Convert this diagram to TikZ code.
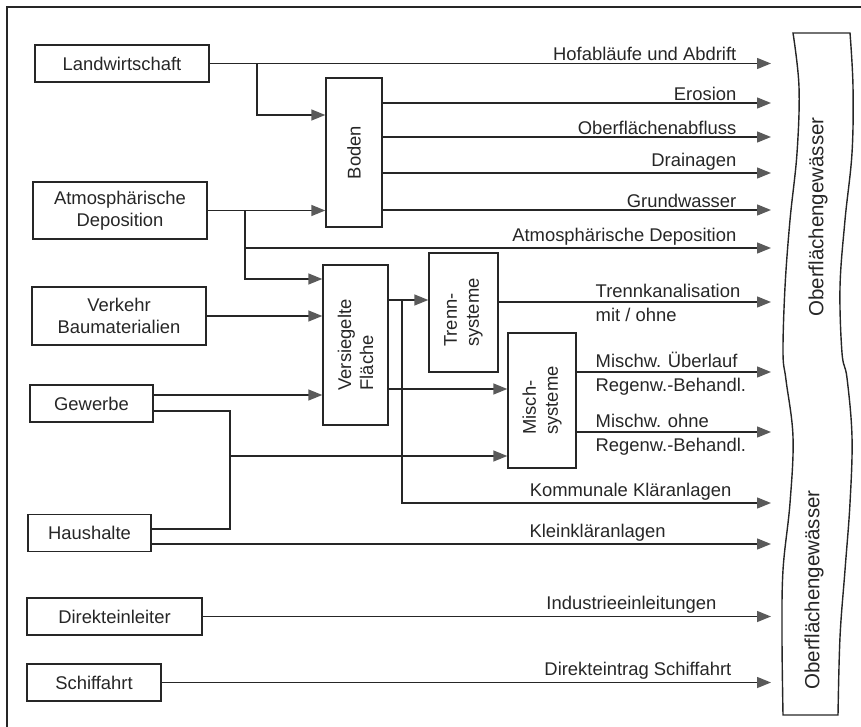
\documentclass[tikz,border=0pt]{standalone}
\usepackage{fontspec}
\setmainfont{Liberation Sans}
\usetikzlibrary{arrows.meta,positioning,calc}

\definecolor{linec}{HTML}{262626}
\definecolor{tipc}{HTML}{5A5A5A}

\tikzset{
  box/.style={draw, line width=1.4pt, align=center, inner sep=2pt, minimum height=37pt},
  vbox/.style={box, rotate=90, align=left},
  tag/.style={pos=1, anchor=south east, xshift=-32pt, inner sep=2pt},
  tagup/.style={pos=1, anchor=south west, xshift=-178pt, yshift=2pt, inner sep=2pt},
  tagdn/.style={pos=1, anchor=north west, xshift=-178pt, yshift=-3pt, inner sep=2pt}
}

\begin{document}
\begin{tikzpicture}[x=1pt, y=-1pt, line width=1.4pt, color=linec,
    >={Triangle[length=14pt,width=11pt,color=tipc]},
    font=\fontsize{18.4}{22}\selectfont]
  \useasboundingbox (0,0) rectangle (861,727);
  \draw[line width=2pt] (7,727) -- (7,7) -- (861,7);

  \node[box, minimum width=174pt] (land) at (122,63.5) {Landwirtschaft};
  \node[box, minimum width=174pt, minimum height=57pt] (atmo) at (120,210.5) {Atmosphärische\\Deposition};
  \node[box, minimum width=174pt, minimum height=58pt] (verk) at (119,316) {Verkehr\\Baumaterialien};
  \node[box, minimum width=123pt] (gew) at (91.5,403.5) {Gewerbe};
  \node[box, minimum width=123pt] (haus) at (89.5,533) {Haushalte};
  \node[box, minimum width=175pt] (direkt) at (114.5,616.5) {Direkteinleiter};
  \node[box, minimum width=134pt] (schiff) at (94,682.5) {Schiffahrt};

  \node[vbox, minimum width=149pt, minimum height=56pt] (boden) at (354,152.5) {Boden};
  \node[vbox, minimum width=160pt, minimum height=65pt] (vers) at (355.5,345) {Versiegelte\\Fläche};
  \node[vbox, minimum width=119pt, minimum height=69pt] (trenn) at (463.5,312.5) {Trenn-\\systeme};
  \node[vbox, minimum width=135pt, minimum height=68pt] (misch) at (542,400.5) {Misch-\\systeme};

  \coordinate (ow) at (771,0);
  \coordinate (hg) at (230,456);
  \coordinate (kv) at (402,300);

  \draw[->] (land.east) -- (land.east -| ow) node[tag] {Hofabläufe und Abdrift};
  \draw[->] (land.east -| 257,0) |- (boden.north |- 0,115);
  \draw[->] (boden.south |- 0,103) -- (ow |- 0,103) node[tag] {Erosion};
  \draw[->] (boden.south |- 0,137) -- (ow |- 0,137) node[tag] {Oberflächenabfluss};
  \draw[->] (boden.south |- 0,173) -- (ow |- 0,173) node[tag] {Drainagen};
  \draw[->] (boden.south |- 0,210) -- (ow |- 0,210) node[tag] {Grundwasser};

  \draw[->] (atmo.east) -- (atmo.east -| boden.north);
  \draw[->] (atmo.east -| 245,0) |- (ow |- 0,248) node[tag] {Atmosphärische Deposition};
  \draw[->] (atmo.east -| 245,0) |- (vers.north |- 0,279);
  \draw[->] (verk.east) -- (verk.east -| vers.north);
  \draw[->] (gew.east |- 0,395) -- (vers.north |- 0,395);
  \draw (gew.east |- 0,411) -| (hg) |- (haus.east |- 0,529);
  \draw[->] (hg) -- (misch.north |- hg);
  \draw[->] (haus.east |- 0,544) -- (ow |- 0,544)
    node[pos=0.72, anchor=south, inner sep=2pt] {Kleinkläranlagen};

  \draw[->] (vers.south |- kv) -- (trenn.north |- kv);
  \draw[->] (kv) |- (ow |- 0,503) node[tag, xshift=-5pt] {Kommunale Kläranlagen};
  \draw[->] (vers.south |- 0,389) -- (misch.north |- 0,389);
  \draw[->] (trenn.south |- 0,302) -- (ow |- 0,302)
    node[tagup] {Trennkanalisation} node[tagdn] {mit / ohne};
  \draw[->] (misch.south |- 0,372) -- (ow |- 0,372)
    node[tagup] {Mischw. Überlauf} node[tagdn] {Regenw.-Behandl.};
  \draw[->] (misch.south |- 0,432) -- (ow |- 0,432)
    node[tagup] {Mischw. ohne} node[tagdn] {Regenw.-Behandl.};

  \draw[->] (direkt.east) -- (direkt.east -| ow) node[tag, xshift=-20pt] {Industrieeinleitungen};
  \draw[->] (schiff.east) -- (schiff.east -| ow) node[tag, xshift=-5pt] {Direkteintrag Schiffahrt};

  \draw plot[smooth, tension=0.6] coordinates {(793,33) (799,87) (797,153) (790,220)
      (785,287) (783,353) (786,380) (793,437) (790,503) (783,570) (782,637) (783,715)}
    -- plot[smooth, tension=0.6] coordinates {(838,715) (840,637) (845,570) (850,503)
      (852,437) (847,378) (842,353) (840,287) (845,220) (852,153) (853,87) (850,33)}
    -- cycle;
  \node[rotate=90, font=\fontsize{20.5}{24}\selectfont] (ow1) at (818,217) {Oberflächengewässer};
  \node[rotate=90, font=\fontsize{20.5}{24}\selectfont] (ow2) at (814,590) {Oberflächengewässer};
\end{tikzpicture}
\end{document}
